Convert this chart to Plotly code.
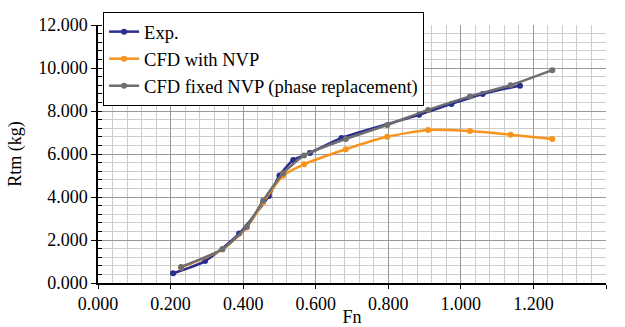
import plotly.graph_objects as go

# Exp. (experimental)
exp_fn = [0.207, 0.295, 0.389, 0.471, 0.500, 0.538, 0.584, 0.671, 0.885, 0.974, 1.060, 1.163]
exp_rtm = [0.45, 1.02, 2.30, 4.05, 5.00, 5.72, 6.05, 6.75, 7.82, 8.33, 8.79, 9.18]

# CFD runs
cfd_fn = [0.229, 0.343, 0.410, 0.455, 0.510, 0.568, 0.683, 0.797, 0.910, 1.025, 1.137, 1.252]
cfd_nvp_rtm = [0.72, 1.56, 2.58, 3.75, 4.99, 5.52, 6.22, 6.80, 7.12, 7.07, 6.90, 6.70]
cfd_fixed_rtm = [0.75, 1.58, 2.62, 3.83, 5.10, 5.93, 6.70, 7.35, 8.05, 8.68, 9.20, 9.90]

names = ["Exp.", "CFD with NVP", "CFD fixed NVP (phase replacement)"]
colors = ["#2B2E8C", "#F7941D", "#6D6E71"]

FONT = "Liberation Serif"

fig = go.Figure()
for xs, ys, nm, c in [(exp_fn, exp_rtm, names[0], colors[0]),
                      (cfd_fn, cfd_nvp_rtm, names[1], colors[1]),
                      (cfd_fn, cfd_fixed_rtm, names[2], colors[2])]:
    fig.add_trace(go.Scatter(x=xs, y=ys, name=nm, mode="lines+markers",
                             line=dict(color=c, width=2.5, shape="spline", smoothing=0.6),
                             marker=dict(size=6, color=c)))

fig.update_layout(
    width=625, height=327,
    margin=dict(l=98, r=19, t=25, b=44),
    paper_bgcolor="white", plot_bgcolor="white",
    font=dict(family=FONT, size=18, color="black"),
    showlegend=True,
    legend=dict(x=0.01, y=1.05, xanchor="left", yanchor="top",
                bgcolor="white", bordercolor="black", borderwidth=1,
                font=dict(family=FONT, size=18.5, color="black"), tracegroupgap=0),
)
fig.update_xaxes(
    range=[0, 1.4], dtick=0.2, tickformat=".3f", automargin=False,
    showline=True, linecolor="black", linewidth=1.5,
    ticks="outside", ticklen=4, tickcolor="black",
    showgrid=True, gridcolor="#999999", gridwidth=1,
    minor=dict(dtick=0.04, showgrid=True, gridcolor="#cccccc", gridwidth=1),
    zeroline=False,
    title=dict(text="Fn", standoff=0, font=dict(family=FONT, size=18, color="black")),
    tickfont=dict(family=FONT, size=18, color="black"),
)
fig.update_yaxes(
    range=[0, 12], dtick=2, tickformat=".3f", automargin=False,
    showline=True, linecolor="black", linewidth=1.5,
    ticks="outside", ticklen=5, tickcolor="black",
    showgrid=True, gridcolor="#999999", gridwidth=1,
    minor=dict(dtick=0.4, showgrid=True, gridcolor="#cccccc", gridwidth=1,
               ticks="inside", ticklen=4, tickcolor="black"),
    zeroline=False,
    title=dict(text="Rtm (kg)", standoff=12, font=dict(family=FONT, size=18, color="black")),
    tickfont=dict(family=FONT, size=18, color="black"),
)

fig.write_html("out.html")
